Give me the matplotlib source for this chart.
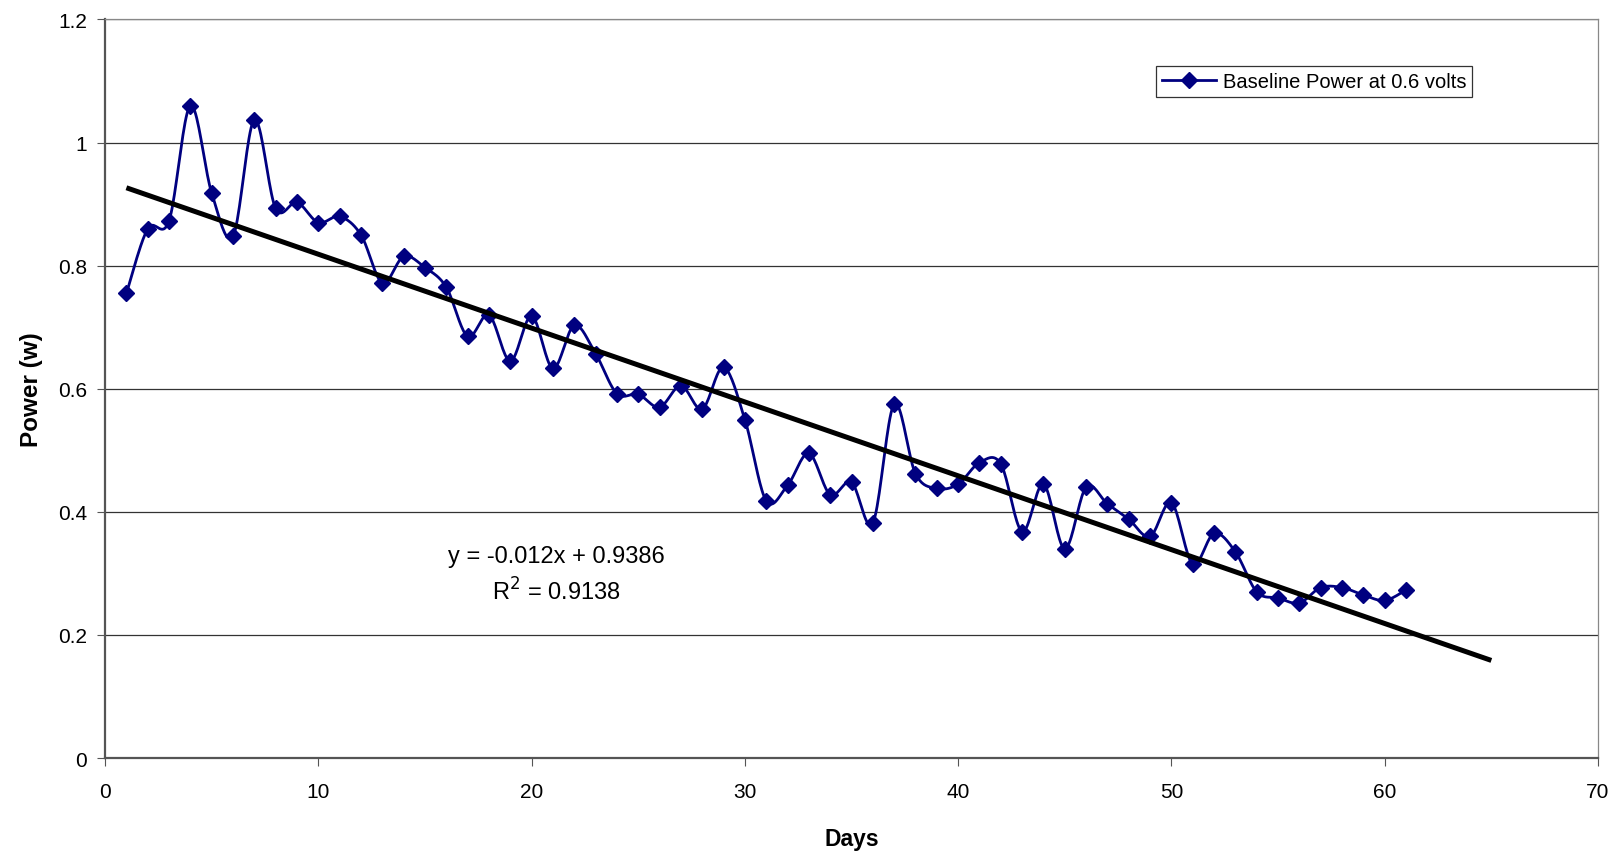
import numpy as np
import matplotlib
matplotlib.use("Agg")
import matplotlib.pyplot as plt

plt.rcParams["font.family"] = ["Liberation Sans", "DejaVu Sans"]

days = list(range(1, 62))
power = [0.755, 0.860, 0.873, 1.060, 0.918, 0.848, 1.037, 0.893, 0.903, 0.870,
         0.880, 0.850, 0.772, 0.815, 0.797, 0.765, 0.685, 0.720, 0.645, 0.718,
         0.633, 0.703, 0.657, 0.592, 0.591, 0.570, 0.605, 0.567, 0.635, 0.550,
         0.418, 0.443, 0.495, 0.428, 0.448, 0.382, 0.575, 0.462, 0.438, 0.445,
         0.480, 0.478, 0.368, 0.445, 0.340, 0.440, 0.413, 0.388, 0.360, 0.415,
         0.315, 0.365, 0.335, 0.270, 0.260, 0.252, 0.277, 0.277, 0.265, 0.256,
         0.273]

trend_slope = -0.012
trend_intercept = 0.9386
trend_r2 = 0.9138
trend_end = 65


def smooth_curve(x, y, steps=20):
    # Excel style smoothed line (Catmull-Rom through the points)
    x = np.asarray(x, float)
    y = np.asarray(y, float)
    px = np.concatenate([[x[0]], x, [x[-1]]])
    py = np.concatenate([[y[0]], y, [y[-1]]])
    xs, ys = [], []
    t = np.linspace(0, 1, steps, endpoint=False)
    for i in range(1, len(px) - 2):
        p0, p1, p2, p3 = px[i - 1:i + 3]
        q0, q1, q2, q3 = py[i - 1:i + 3]
        c1x, c1y = p1 + (p2 - p0) / 6, q1 + (q2 - q0) / 6
        c2x, c2y = p2 - (p3 - p1) / 6, q2 - (q3 - q1) / 6
        b0, b1, b2, b3 = (1 - t) ** 3, 3 * (1 - t) ** 2 * t, 3 * (1 - t) * t ** 2, t ** 3
        xs.append(b0 * p1 + b1 * c1x + b2 * c2x + b3 * p2)
        ys.append(b0 * q1 + b1 * c1y + b2 * c2y + b3 * q2)
    xs.append([x[-1]])
    ys.append([y[-1]])
    return np.concatenate(xs), np.concatenate(ys)


fig = plt.figure(figsize=(16.19, 8.54), dpi=100)
ax = fig.add_axes([0.0649, 0.1112, 0.9221, 0.8648])

sx, sy = smooth_curve(days, power)
ax.plot(sx, sy, color="#000080", lw=2.0, zorder=3)
ax.plot(days, power, linestyle="none", marker="D", ms=7.8, color="#000080", zorder=4)
ax.plot([], [], color="#000080", lw=2.0, marker="D", ms=7.8,
        label="Baseline Power at 0.6 volts")

tx = np.array([days[0], trend_end])
ax.plot(tx, trend_slope * tx + trend_intercept, color="black", lw=3.6, zorder=5,
        solid_capstyle="butt")

ax.text(21.14, 0.3185, f"y = {trend_slope}x + {trend_intercept}", fontsize=17,
        ha="center", va="baseline")
ax.text(21.14, 0.257, f"R$^2$ = {trend_r2}", fontsize=17, ha="center", va="baseline")

ax.set_xlim(0, 70)
ax.set_ylim(0, 1.2)
ax.set_xticks(range(0, 71, 10))
ax.set_yticks([0, 0.2, 0.4, 0.6, 0.8, 1.0, 1.2])
ax.set_yticklabels(["0", "0.2", "0.4", "0.6", "0.8", "1", "1.2"])
ax.tick_params(labelsize=15, direction="out", length=6, color="#555555")
ax.tick_params(axis="x", pad=11)
ax.tick_params(axis="y", pad=7)
ax.grid(axis="y", color="#333333", lw=0.9)
ax.set_axisbelow(True)

for side in ["top", "right"]:
    ax.spines[side].set_color("#888888")
    ax.spines[side].set_linewidth(0.9)
for side in ["left", "bottom"]:
    ax.spines[side].set_color("#555555")
    ax.spines[side].set_linewidth(1.6)

ax.set_xlabel("Days", fontsize=16.5, fontweight="bold", labelpad=19)
ax.set_ylabel("Power (w)", fontsize=17.5, fontweight="bold", labelpad=11)

leg = ax.legend(loc="upper left", bbox_to_anchor=(0.704, 0.937), borderaxespad=0,
                fontsize=14.5, frameon=True, fancybox=False, edgecolor="black",
                handlelength=2.7, borderpad=0.3, handletextpad=0.3)
leg.get_frame().set_linewidth(0.9)

fig.savefig("out.png", dpi=100)
